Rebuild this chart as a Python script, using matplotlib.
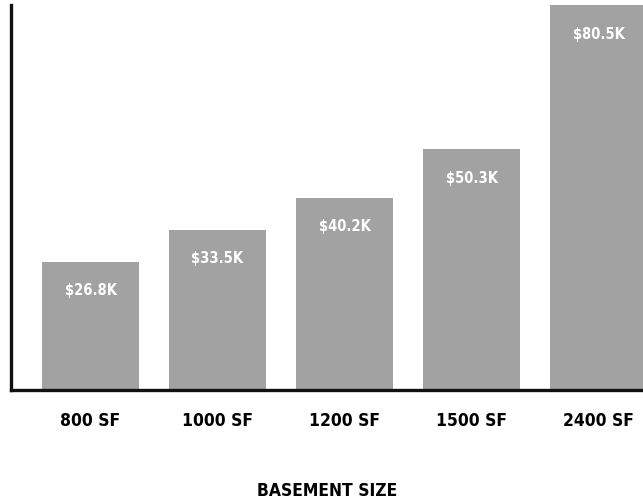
import matplotlib.pyplot as plt
import numpy as np

sizes = ["800 SF", "1000 SF", "1200 SF", "1500 SF", "2400 SF"]
costs = [26.8, 33.5, 40.2, 50.3, 80.5]  # thousands of dollars
labels = ["$26.8K", "$33.5K", "$40.2K", "$50.3K", "$80.5K"]

plt.rcParams['font.family'] = ['DejaVu Sans']
plt.rcParams['font.stretch'] = 'condensed'

fig = plt.figure(figsize=(6.43, 5.03), dpi=100)
ax = fig.add_axes([11 / 643, 113 / 503, 632 / 643, 385 / 503])

x = np.arange(len(sizes))
bars = ax.bar(x, costs, width=0.76, color="#a2a2a2", zorder=1)

for b, lab in zip(bars, labels):
    ax.annotate(lab, (b.get_x() + b.get_width() / 2, b.get_height()),
                xytext=(0, -21), textcoords="offset points",
                ha="center", va="center", color="white",
                fontsize=10.5, fontweight="bold", fontstretch="condensed")

ax.set_xlim(-0.626, 4.35)
ax.set_ylim(0, 80.5)
ax.set_xticks(x)
ax.set_xticklabels(sizes, fontsize=12.5, fontweight="bold", fontstretch="condensed")
ax.tick_params(axis="x", length=0, pad=16)
ax.set_yticks([])
ax.set_xlabel("BASEMENT SIZE", fontsize=12.5, fontweight="bold",
              fontstretch="condensed", labelpad=37)

for side in ["top", "right"]:
    ax.spines[side].set_visible(False)
for side in ["left", "bottom"]:
    ax.spines[side].set_linewidth(2.4)
    ax.spines[side].set_color("#111111")

fig.savefig("out.png", dpi=100)
